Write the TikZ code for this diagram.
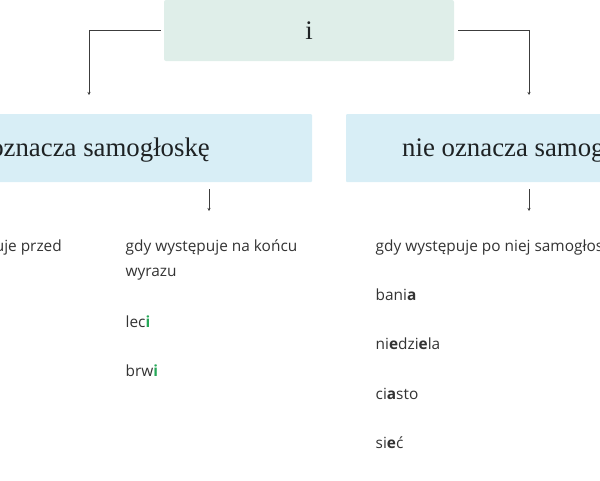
\documentclass[tikz,border=0pt]{standalone}
\usepackage{fontspec}
\setmainfont{Liberation Serif}
\newfontfamily\osans{Open Sans}
\usetikzlibrary{arrows.meta}
\definecolor{topfill}{RGB}{223,238,233}
\definecolor{boxfill}{RGB}{216,238,246}
\definecolor{txt}{RGB}{51,51,51}
\definecolor{serift}{RGB}{30,34,36}
\definecolor{hl}{RGB}{38,168,88}
\definecolor{linec}{RGB}{60,60,60}
\begin{document}
\begin{tikzpicture}[x=1pt,y=-1pt,
  topbox/.style={fill=topfill, rounded corners=2pt, minimum width=290pt, minimum height=61pt, inner sep=0pt, font=\fontsize{26.8}{30}\selectfont, text=serift},
  catbox/.style={fill=boxfill, rounded corners=1pt, minimum height=68pt, inner sep=0pt},
  cattext/.style={inner sep=0pt, font=\fontsize{26.8}{30}\selectfont, text=serift},
  body/.style={inner sep=0pt, font=\osans\fontsize{15.4}{25}\selectfont, text=txt},
  conn/.style={draw=linec, line width=0.8pt, -{Stealth[length=3pt,width=3pt]}}
]
\useasboundingbox (0,0) rectangle (600,480);
\clip (0,0) rectangle (600,480);

% top box
\node[topbox] (top) at (309,30.5) {i};

% category boxes
\node[catbox, minimum width=420pt] (lbox) at (102,148) {};
\node[catbox, minimum width=380pt] (rbox) at (536,148) {};
\node[cattext, anchor=base east] (ltext) at (210,156) {oznacza samogłoskę};
\node[cattext, anchor=base west] (rtext) at (402,156) {nie oznacza samogłoski};

% connectors from top box
\coordinate (la) at (89,95);
\coordinate (ra) at (529,95);
\draw[conn] ([xshift=-3pt]top.west) -| (la);
\draw[conn] ([xshift=4pt]top.east) -| (ra);

% small arrows under the category boxes
\coordinate (ls) at (209,189);
\coordinate (le) at (209,211);
\coordinate (rs) at (529,189);
\coordinate (re) at (529,211);
\draw[conn] (ls) -- (le);
\draw[conn] (rs) -- (re);

% left (clipped) column
\node[body, anchor=base east] (l0) at (62,251) {gdy występuje przed};

% middle column
\node[body, anchor=base west] (m0) at (125.5,251) {gdy występuje na końcu};
\node[body, anchor=base west] (m1) at (125.5,276) {wyrazu};
\node[body, anchor=base west] (m2) at (125.5,327.5) {lec\textbf{\color{hl}i}};
\node[body, anchor=base west] (m3) at (125.5,376.5) {brw\textbf{\color{hl}i}};

% right column
\node[body, anchor=base west] (r0) at (375.5,251) {gdy występuje po niej samogłoska};
\node[body, anchor=base west] (r1) at (375.5,300) {bani\textbf{a}};
\node[body, anchor=base west] (r2) at (375.5,349.5) {ni\textbf{e}dzi\textbf{e}la};
\node[body, anchor=base west] (r3) at (375.5,399) {ci\textbf{a}sto};
\node[body, anchor=base west] (r4) at (375.5,448) {si\textbf{e}ć};
\end{tikzpicture}
\end{document}
